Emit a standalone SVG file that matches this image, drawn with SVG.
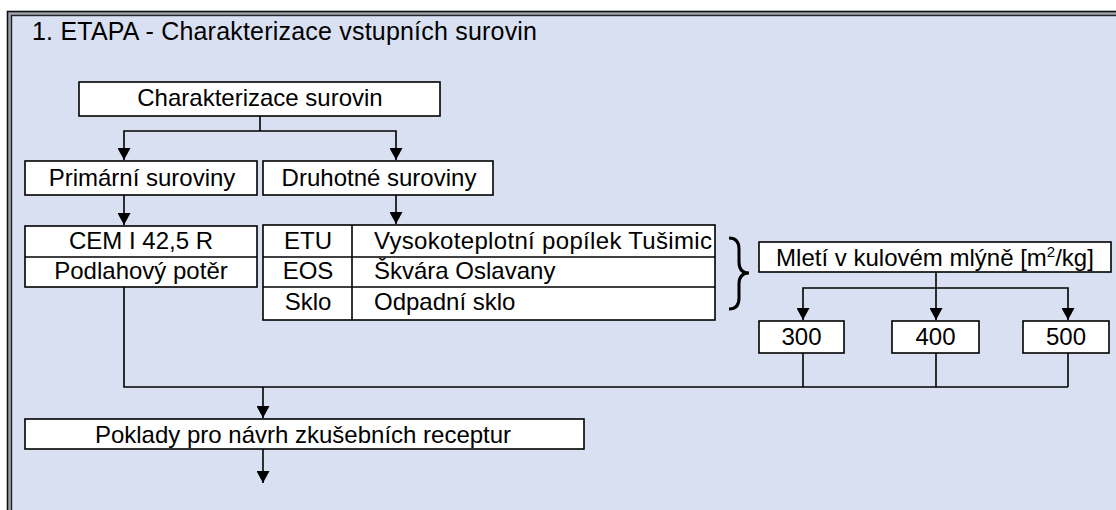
<svg xmlns="http://www.w3.org/2000/svg" width="1116" height="510" viewBox="0 0 1116 510">
  <style>
    text { font-family: "Liberation Sans", Arial, sans-serif; font-size: 24px; fill: #000; }
    .title { font-size: 25px; }
    .box { fill: #fff; stroke: #000; stroke-width: 1.6; }
    .ln { fill: none; stroke: #000; stroke-width: 1.6; }
    .c { text-anchor: middle; }
  </style>
  <defs>
    <marker id="arr" markerUnits="userSpaceOnUse" markerWidth="13" markerHeight="13" refX="12" refY="6.5" orient="auto">
      <path d="M0,0 L12,6.5 L0,13 z" fill="#000"/>
    </marker>
  </defs>

  <!-- frame -->
  <g id="frame">
    <rect x="0" y="0" width="1116" height="510" fill="#ffffff"/>
    <rect x="7.5" y="11.5" width="1200" height="600" fill="#9ea2ad" stroke="#111" stroke-width="1.6"/>
    <rect x="11.5" y="15.5" width="1200" height="600" fill="#d9e0f2" stroke="#222" stroke-width="1.4"/>
    <text class="title" x="32" y="40" textLength="505" lengthAdjust="spacing">1. ETAPA - Charakterizace vstupních surovin</text>
  </g>

  <g id="connectors">
    <path class="ln" d="M260,116 V131"/>
    <path class="ln" d="M260,131 H124 V160" marker-end="url(#arr)"/>
    <path class="ln" d="M260,131 H396 V160" marker-end="url(#arr)"/>
    <path class="ln" d="M124,195 V225" marker-end="url(#arr)"/>
    <path class="ln" d="M396,195 V224" marker-end="url(#arr)"/>
    <path class="ln" d="M936,272 V288"/>
    <path class="ln" d="M936,288 H803 V320" marker-end="url(#arr)"/>
    <path class="ln" d="M936,288 V320" marker-end="url(#arr)"/>
    <path class="ln" d="M936,288 H1068 V320" marker-end="url(#arr)"/>
    <path class="ln" d="M124,287 V387 H1068"/>
    <path class="ln" d="M803,353 V387"/>
    <path class="ln" d="M936,353 V387"/>
    <path class="ln" d="M1068,353 V387"/>
    <path class="ln" d="M263,387 V418" marker-end="url(#arr)"/>
    <path class="ln" d="M263,449 V483" marker-end="url(#arr)"/>
  </g>

  <g id="charakterizace">
    <rect class="box" x="79" y="82" width="361" height="34"/>
    <text class="c" x="260" y="106">Charakterizace surovin</text>
  </g>

  <g id="primarni">
    <rect class="box" x="25" y="161" width="232" height="34"/>
    <text class="c" x="142" y="186">Primární suroviny</text>
  </g>

  <g id="druhotne">
    <rect class="box" x="263" y="161" width="230" height="34"/>
    <text class="c" x="379" y="186">Druhotné suroviny</text>
  </g>

  <g id="primarni-list">
    <rect class="box" x="25" y="226" width="232" height="61"/>
    <line class="ln" x1="25" y1="257" x2="257" y2="257"/>
    <text class="c" x="141" y="249">CEM I 42,5 R</text>
    <text class="c" x="141" y="279">Podlahový potěr</text>
  </g>

  <g id="druhotne-table">
    <rect class="box" x="263" y="225" width="452" height="95"/>
    <line class="ln" x1="263" y1="257" x2="715" y2="257"/>
    <line class="ln" x1="263" y1="287" x2="715" y2="287"/>
    <line class="ln" x1="352" y1="225" x2="352" y2="320"/>
    <text class="c" x="308" y="249">ETU</text>
    <text class="c" x="308" y="279">EOS</text>
    <text class="c" x="308" y="310">Sklo</text>
    <text x="374" y="249" textLength="338" lengthAdjust="spacing">Vysokoteplotní popílek Tušimic</text>
    <text x="374" y="279">Škvára Oslavany</text>
    <text x="374" y="310">Odpadní sklo</text>
  </g>

  <g id="brace">
    <path d="M729,238 Q739,238 739,249 L739,262 Q739,273 749,273 Q739,273 739,284 L739,298 Q739,309 729,309" fill="none" stroke="#000" stroke-width="3"/>
  </g>

  <g id="mleti">
    <rect class="box" x="759" y="242" width="352" height="30"/>
    <text class="c" x="935" y="266">Mletí v kulovém mlýně [m<tspan dy="-9" font-size="15">2</tspan><tspan dy="9">/kg]</tspan></text>
  </g>

  <g id="n300">
    <rect class="box" x="759" y="321" width="85" height="32"/>
    <text class="c" x="801.5" y="345">300</text>
  </g>
  <g id="n400">
    <rect class="box" x="892" y="321" width="87" height="32"/>
    <text class="c" x="935.5" y="345">400</text>
  </g>
  <g id="n500">
    <rect class="box" x="1023" y="321" width="86" height="32"/>
    <text class="c" x="1066" y="345">500</text>
  </g>

  <g id="poklady">
    <rect class="box" x="25" y="419" width="559" height="30"/>
    <text class="c" x="303" y="443">Poklady pro návrh zkušebních receptur</text>
  </g>
</svg>
